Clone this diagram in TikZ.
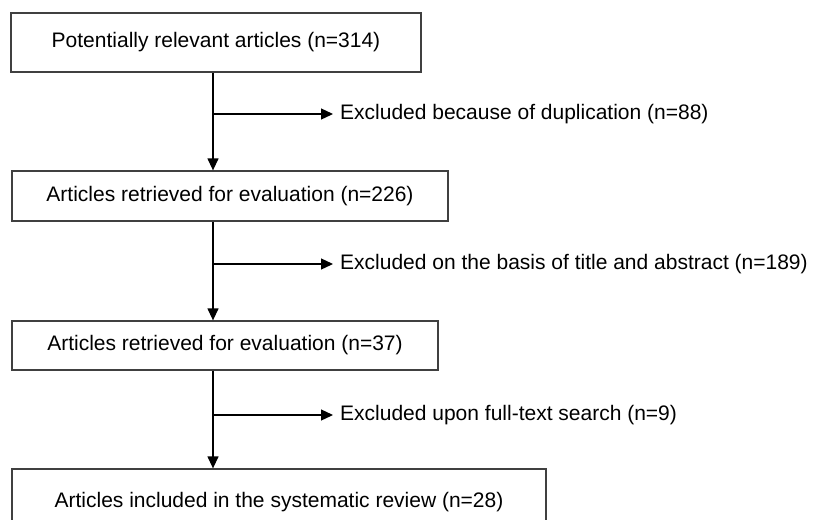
\documentclass[tikz,border=0pt]{standalone}
\usepackage{fontspec}
\setmainfont{Liberation Sans}
\usetikzlibrary{arrows.meta}
\begin{document}
\begin{tikzpicture}[x=1pt,y=-1pt,
  every node/.style={font=\fontsize{21}{25}\selectfont},
  box/.style={draw=black!75,line width=1.3pt,rectangle,inner sep=0pt},
  lab/.style={anchor=west,inner xsep=7pt,inner ysep=0pt},
  flow/.style={line width=1.3pt,-{Triangle[length=12pt,width=11pt]}}]
\useasboundingbox (0,0) rectangle (815,520);
\clip (0,0) rectangle (815,520);
\node[box,minimum width=410pt,minimum height=59pt] (b1) at (216,42.5) {Potentially relevant articles (n=314)};
\node[box,minimum width=436pt,minimum height=50pt] (b2) at (230,196) {Articles retrieved for evaluation (n=226)};
\node[box,minimum width=426pt,minimum height=49pt] (b3) at (225,345.5) {Articles retrieved for evaluation (n=37)};
\node[box,minimum width=534pt,minimum height=66pt] (b4) at (279,502) {Articles included in the systematic review (n=28)};
\coordinate (c) at (213,0);
\coordinate (j1) at (213,114);
\coordinate (j2) at (213,264);
\coordinate (j3) at (213,415);
\node[lab] (e1) at (333,114) {Excluded because of duplication (n=88)};
\node[lab] (e2) at (333,264) {Excluded on the basis of title and abstract (n=189)};
\node[lab] (e3) at (333,415) {Excluded upon full-text search (n=9)};
\draw[flow] (b1.south -| c) -- (b2.north -| c);
\draw[flow] (b2.south -| c) -- (b3.north -| c);
\draw[flow] (b3.south -| c) -- (b4.north -| c);
\draw[flow] (j1) -- (e1.west);
\draw[flow] (j2) -- (e2.west);
\draw[flow] (j3) -- (e3.west);
\end{tikzpicture}
\end{document}
